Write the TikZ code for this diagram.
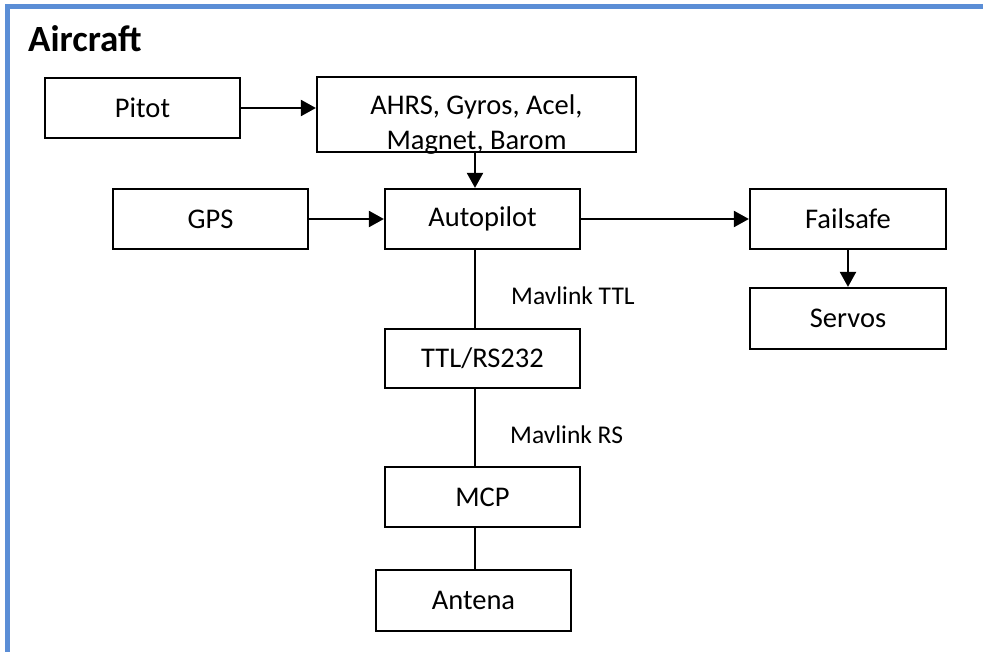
\documentclass[tikz,border=0pt]{standalone}
\usepackage{fontspec}
\setmainfont{Carlito}
\usetikzlibrary{arrows.meta}
\definecolor{frameblue}{RGB}{91,142,214}
\tikzset{
  block/.style={draw=black, line width=2.2pt, fill=white, inner sep=0pt,
    minimum width=195pt, minimum height=60pt,
    font=\fontsize{28.5}{34}\selectfont},
  link/.style={draw=black, line width=2.2pt},
  flow/.style={link, -{Triangle[length=15pt,width=16pt]}},
  tag/.style={inner sep=0pt, font=\fontsize{25.5}{30}\selectfont},
}
\begin{document}
\begin{tikzpicture}[x=1pt, y=-1pt]
  \useasboundingbox (0,0) rectangle (983,652);
  \fill[white] (0,0) rectangle (983,652);

  % frame of the aircraft group
  \draw[frameblue, line width=5pt] (7.5,652) -- (7.5,6.5) -- (983,6.5);
  \node[anchor=base west, inner sep=0pt, font=\fontsize{37}{44}\selectfont\bfseries]
    (title) at (28,52) {Aircraft};

  % blocks
  \node[block] (pitot) at (142.5,108) {Pitot};
  \node[block, minimum width=319pt, minimum height=75pt] (ahrs) at (476.5,114.5) {};
  \node[align=center, inner sep=0pt, font=\fontsize{28.5}{35}\selectfont,
        anchor=base] (ahrstext) at (476.5,150) {AHRS, Gyros, Acel,\\Magnet, Barom};
  \node[block] (gps) at (210.5,219) {GPS};
  \node[block] (ap) at (482.5,219) {Autopilot};
  \node[block, minimum width=196pt] (fs) at (848,219) {Failsafe};
  \node[block, minimum width=196pt, minimum height=61pt] (servos) at (848,318.5) {Servos};
  \node[block, minimum height=59pt] (ttl) at (482.5,358.5) {TTL/RS232};
  \node[block] (mcp) at (482.5,497) {MCP};
  \node[block, minimum height=61pt] (ant) at (473.5,600.5) {Antena};

  % vertical bus line of the telemetry chain
  \coordinate (spine) at (475,0);

  % connectors
  \draw[flow] (pitot.east) -- (pitot.east -| ahrs.west);
  \draw[flow] (spine |- ahrs.south) -- (spine |- ap.north);
  \draw[flow] (gps.east) -- (ap.west);
  \draw[flow] (ap.east) -- (fs.west);
  \draw[flow] (fs.south) -- (servos.north);
  \draw[link] (spine |- ap.south) -- (spine |- ttl.north);
  \draw[link] (spine |- ttl.south) -- (spine |- mcp.north);
  \draw[link] (spine |- mcp.south) -- (spine |- ant.north);

  % link labels
  \node[tag, anchor=base west] (ttltag) at (511,305) {Mavlink TTL};
  \node[tag, anchor=base west] (rstag) at (510,443) {Mavlink RS};
\end{tikzpicture}
\end{document}
